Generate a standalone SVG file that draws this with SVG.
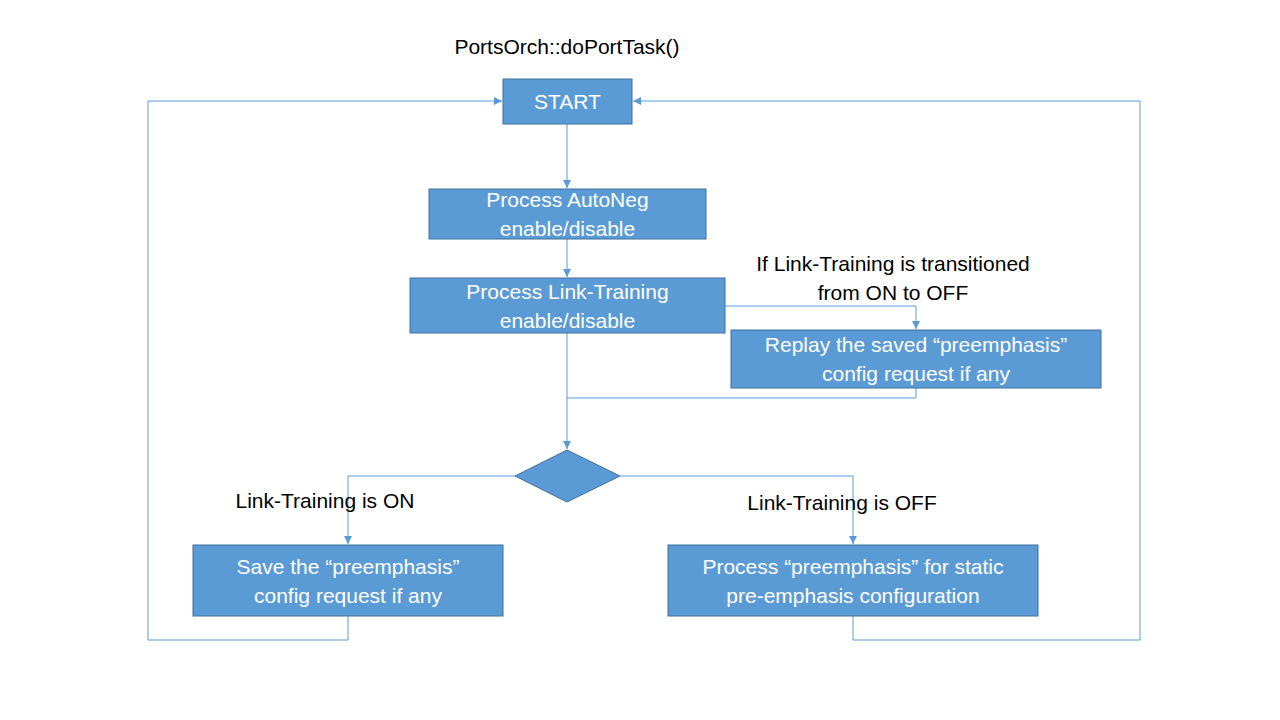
<svg xmlns="http://www.w3.org/2000/svg" width="1280" height="720" viewBox="0 0 1280 720">
<style>
.box{fill:#5B9BD5;stroke:#41719C;stroke-width:1}
.wt{fill:#FFFFFF;font-family:"Liberation Sans",Arial,sans-serif;font-size:21px;text-anchor:middle}
.bt{fill:#000000;font-family:"Liberation Sans",Arial,sans-serif;font-size:21px;text-anchor:middle}
.ln{fill:none;stroke:#5B9BD5;stroke-width:1}
</style>
<defs>
<marker id="ah" markerWidth="10" markerHeight="10" refX="8" refY="4" orient="auto" markerUnits="userSpaceOnUse">
<path d="M0,0 L8,4 L0,8 Z" fill="#5B9BD5"/>
</marker>
</defs>
<rect width="1280" height="720" fill="#FFFFFF"/>
<text class="bt" x="567" y="54">PortsOrch::doPortTask()</text>
<g id="connectors">
<path class="ln" d="M567,124 L567,188" marker-end="url(#ah)"/>
<path class="ln" d="M567,239 L567,277" marker-end="url(#ah)"/>
<path class="ln" d="M725,306 L916,306 L916,329" marker-end="url(#ah)"/>
<path class="ln" d="M916,388 L916,398 L567,398"/>
<path class="ln" d="M567,333 L567,449" marker-end="url(#ah)"/>
<path class="ln" d="M515,476 L348,476 L348,544" marker-end="url(#ah)"/>
<path class="ln" d="M620,476 L853,476 L853,544" marker-end="url(#ah)"/>
<path class="ln" d="M348,616 L348,640 L148,640 L148,101 L502,101" marker-end="url(#ah)"/>
<path class="ln" d="M853,616 L853,640 L1140,640 L1140,101 L633,101" marker-end="url(#ah)"/>
</g>
<g id="start">
<rect class="box" x="503" y="79" width="129" height="45"/>
<text class="wt" x="567.5" y="109">START</text>
</g>
<g id="autoneg">
<rect class="box" x="429" y="189" width="277" height="50"/>
<text class="wt" x="567.5" y="207">Process AutoNeg</text>
<text class="wt" x="567.5" y="236">enable/disable</text>
</g>
<g id="linktraining">
<rect class="box" x="410" y="278" width="315" height="55"/>
<text class="wt" x="567.5" y="299">Process Link-Training</text>
<text class="wt" x="567.5" y="328">enable/disable</text>
</g>
<g id="replay">
<rect class="box" x="731" y="330" width="370" height="58"/>
<text class="wt" x="916" y="352">Replay the saved “preemphasis”</text>
<text class="wt" x="916" y="381">config request if any</text>
</g>
<g id="transition-label">
<text class="bt" x="893" y="271">If Link-Training is transitioned</text>
<text class="bt" x="893" y="300">from ON to OFF</text>
</g>
<g id="decision">
<polygon class="box" points="567,450 620,476 567,502 515,476"/>
</g>
<g id="on-label">
<text class="bt" x="325" y="508">Link-Training is ON</text>
</g>
<g id="off-label">
<text class="bt" x="842" y="510">Link-Training is OFF</text>
</g>
<g id="save">
<rect class="box" x="193" y="545" width="310" height="71"/>
<text class="wt" x="348" y="574">Save the “preemphasis”</text>
<text class="wt" x="348" y="603">config request if any</text>
</g>
<g id="static">
<rect class="box" x="668" y="545" width="370" height="71"/>
<text class="wt" x="853" y="574">Process “preemphasis” for static</text>
<text class="wt" x="853" y="603">pre-emphasis configuration</text>
</g>
</svg>
